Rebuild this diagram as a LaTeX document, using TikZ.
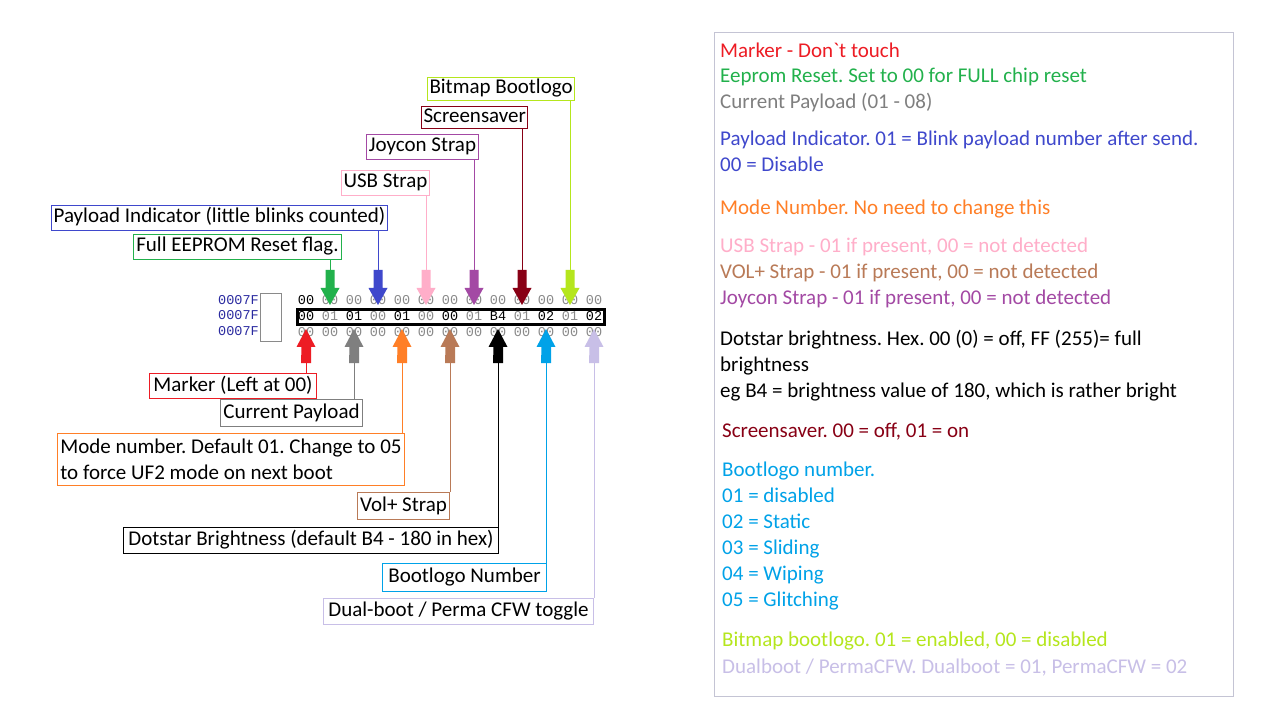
\documentclass[tikz,border=0pt]{standalone}
\usepackage{fontspec}
\setmainfont{Carlito}
\newfontfamily\hexfont{Liberation Mono}
\usetikzlibrary{calc}
\frenchspacing
% Paint palette, one colour per byte
\definecolor{cMarker}{HTML}{ED1C24}
\definecolor{cReset}{HTML}{22B14C}
\definecolor{cPayload}{HTML}{7F7F7F}
\definecolor{cIndic}{HTML}{3F48CC}
\definecolor{cMode}{HTML}{FF7F27}
\definecolor{cUSB}{HTML}{FFAEC9}
\definecolor{cVol}{HTML}{B97A57}
\definecolor{cJoy}{HTML}{A349A4}
\definecolor{cDot}{HTML}{000000}
\definecolor{cScreen}{HTML}{880015}
\definecolor{cBoot}{HTML}{00A2E8}
\definecolor{cBitmap}{HTML}{B5E61D}
\definecolor{cDual}{HTML}{C8BFE7}
\definecolor{addrblue}{HTML}{2A2AA0}
\definecolor{hexgrey}{HTML}{8A8A8A}
\definecolor{panelgrey}{HTML}{C4C4D4}
\newcommand\lblfont{\fontsize{21}{26}\selectfont}
\tikzset{
  box/.style={draw=#1, line width=1pt, anchor=north west, inner xsep=2pt,
    inner ysep=0pt, minimum height=25pt, font=\lblfont},
  lbl/.style={box=#1, text height=15pt, text depth=5pt},
  hex/.style={anchor=base, inner sep=0pt, text=#1,
    font=\hexfont\fontsize{13.5}{15}\selectfont},
  note/.style={anchor=base west, inner sep=0pt, text=#1, font=\lblfont},
}

\begin{document}
\begin{tikzpicture}[x=1pt,y=-1pt]
  \useasboundingbox[fill=white] (0,0) rectangle (1271,708);

  % HEX DUMP
  \foreach \r/\yy in {1/305,2/320,3/336}
    \node[hex=addrblue, anchor=base west] (a\r) at (218,\yy) {0007F:};
  \draw[hexgrey, fill=white] (260,293) rectangle (281,341);

  \foreach \v/\c [count=\i from 0] in {00/black,00/hexgrey,00/hexgrey,00/hexgrey,
      00/hexgrey,00/hexgrey,00/hexgrey,00/hexgrey,00/hexgrey,00/hexgrey,
      00/hexgrey,00/hexgrey,00/hexgrey}
    \node[hex=\c] (ha\i) at ({306+24*\i},305) {\v};
  \foreach \v/\c [count=\i from 0] in {00/black,01/hexgrey,01/black,00/hexgrey,
      01/black,00/hexgrey,00/black,01/hexgrey,B4/black,01/hexgrey,
      02/black,01/hexgrey,02/black}
    \node[hex=\c] (hb\i) at ({306+24*\i},321) {\v};
  \foreach \i in {0,...,12}
    \node[hex=hexgrey] (hc\i) at ({306+24*\i},337) {00};
  \draw[line width=3pt] (297,310) rectangle (604,325);

  % ARROWS (down from above, up from below)
  \foreach \i/\c/\n in {1/cReset/Reset, 3/cIndic/Indic, 5/cUSB/USB,
      7/cJoy/Joy, 9/cScreen/Screen, 11/cBitmap/Bitmap} {
    \pgfmathsetmacro\xx{306+24*\i}
    \coordinate (t\n) at (\xx,270);
    \fill[\c] (\xx-4.5,270) -- ++(9,0) -- ++(0,18) -- ++(5,0) -- (\xx,305)
      -- ++(-9.5,-17) -- ++(5,0) -- cycle;
  }
  \foreach \i/\c/\n in {0/cMarker/Marker, 2/cPayload/Payload, 4/cMode/Mode,
      6/cVol/Vol, 8/cDot/Dot, 10/cBoot/Boot, 12/cDual/Dual} {
    \pgfmathsetmacro\xx{306+24*\i}
    \coordinate (t\n) at (\xx,363);
    \fill[\c] (\xx-5,363) -- ++(10,0) -- ++(0,-16) -- ++(4.5,0) -- (\xx,329)
      -- ++(-9.5,18) -- ++(5,0) -- cycle;
  }

  % LABELS ABOVE
  \node[lbl=cBitmap, minimum width=143pt, minimum height=23pt] (lBitmap) at (427,77) {Bitmap Bootlogo};
  \node[lbl=cScreen, minimum width=106pt, minimum height=22pt] (lScreen) at (421,106) {Screensaver};
  \node[lbl=cJoy, minimum width=112pt] (lJoy) at (366,134) {Joycon Strap};
  \node[lbl=cUSB, minimum width=88pt] (lUSB) at (341,170) {USB Strap};
  \node[lbl=cIndic, minimum width=336pt] (lIndic) at (51,205) {Payload Indicator (little blinks counted)};
  \node[lbl=cReset, minimum width=208pt] (lReset) at (133,234) {Full EEPROM Reset flag.};

  % LABELS BELOW
  \node[lbl=cMarker, minimum width=167pt] (lMarker) at (149,373) {Marker (Left at 00)};
  \node[lbl=cPayload, minimum width=142pt, minimum height=27pt] (lPayload) at (220,399) {Current Payload};
  \node[box=cMode, minimum width=347pt, minimum height=52pt, align=left] (lMode) at (57,433)
    {Mode number. Default 01. Change to 05\\to force UF2 mode on next boot};
  \node[lbl=cVol, minimum width=92pt, minimum height=27pt] (lVol) at (357,492) {Vol+ Strap};
  \node[lbl=cDot, minimum width=375pt, minimum height=26pt] (lDot) at (123,527) {Dotstar Brightness (default B4 - 180 in hex)};
  \node[lbl=cBoot, minimum width=164pt, minimum height=28pt] (lBoot) at (382,563) {Bootlogo Number};
  \node[lbl=cDual, minimum width=270pt, minimum height=26pt] (lDual) at (323,598) {Dual-boot / Perma CFW toggle};

  % CONNECTORS
  \foreach \n in {Reset,Indic,USB,Joy,Screen,Bitmap}
    \draw[c\n] (t\n) -- (t\n |- l\n.south);
  \foreach \n in {Marker,Payload,Mode,Vol,Dot,Boot,Dual}
    \draw[c\n] (t\n) -- (t\n |- l\n.north);

  % LEGEND
  \draw[panelgrey] (714,32) rectangle (1233,696);
  \node[note=cMarker] (n1) at (720,58) {Marker - Don\textasciigrave t touch};
  \node[note=cReset] (n2) at (720,83) {Eeprom Reset. Set to 00 for FULL chip reset};
  \node[note=cPayload] (n3) at (720,109) {Current Payload (01 - 08)};
  \node[note=cIndic] (n4) at (720,146) {Payload Indicator. 01 = Blink payload number after send.};
  \node[note=cIndic] (n5) at (720,172) {00 = Disable};
  \node[note=cMode] (n6) at (720,215) {Mode Number. No need to change this};
  \node[note=cUSB] (n7) at (720,253) {USB Strap - 01 if present, 00 = not detected};
  \node[note=cVol] (n8) at (720,279) {VOL+ Strap - 01 if present, 00 = not detected};
  \node[note=cJoy] (n9) at (720,305) {Joycon Strap - 01 if present, 00 = not detected};
  \node[note=cDot] (n10) at (720,345) {Dotstar brightness. Hex. 00 (0) = off, FF (255)= full};
  \node[note=cDot] (n11) at (720,371) {brightness};
  \node[note=cDot] (n12) at (720,397) {eg B4 = brightness value of 180, which is rather bright};
  \node[note=cScreen] (n13) at (722,437) {Screensaver. 00 = off, 01 = on};
  \node[note=cBoot] (n14) at (722,476) {Bootlogo number.};
  \node[note=cBoot] (n15) at (722,502) {01 = disabled};
  \node[note=cBoot] (n16) at (722,528) {02 = Static};
  \node[note=cBoot] (n17) at (722,554) {03 = Sliding};
  \node[note=cBoot] (n18) at (722,580) {04 = Wiping};
  \node[note=cBoot] (n19) at (722,606) {05 = Glitching};
  \node[note=cBitmap] (n20) at (722,646) {Bitmap bootlogo. 01 = enabled, 00 = disabled};
  \node[note=cDual] (n21) at (722,673) {Dualboot / PermaCFW. Dualboot = 01, PermaCFW = 02};
\end{tikzpicture}
\end{document}
